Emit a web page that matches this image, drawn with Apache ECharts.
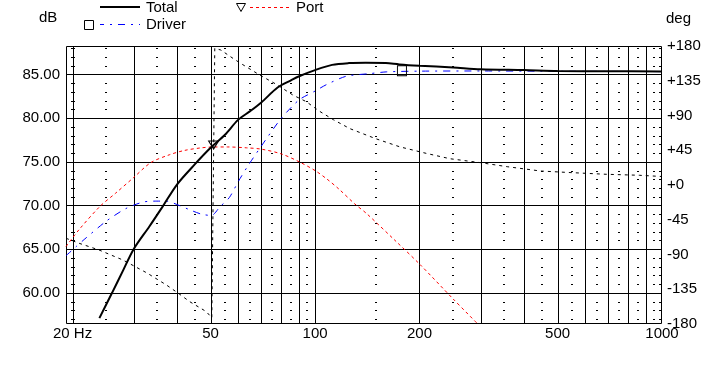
<!DOCTYPE html>
<html><head><meta charset="utf-8">
<script src="https://cdn.jsdelivr.net/npm/echarts@6/dist/echarts.min.js"></script>
<style>html,body{margin:0;padding:0;background:#fff}#c{width:728px;height:384px}</style>
</head><body><div id="c"></div>
<script>
// ---- data ----
const totalFreq = [23.9, 26, 28, 30, 33.3, 36.4, 40, 45, 50, 55, 60, 65, 70, 78, 85, 90, 100, 112, 125, 140, 160, 175, 200, 250, 300, 400, 500, 700, 1000];
const totalDb   = [57.1, 60.0, 62.6, 65.0, 67.6, 69.9, 72.4, 74.7, 76.6, 78.1, 79.8, 80.8, 81.8, 83.5, 84.3, 84.8, 85.5, 86.1, 86.3, 86.35, 86.3, 86.15, 86.0, 85.8, 85.6, 85.5, 85.4, 85.37, 85.35];

const driverFreq = [19.15, 20.5, 21.6, 25, 28.5, 32, 35, 37.3, 40.6, 44.2, 47.1, 50.3, 53.2, 56.6, 60.2, 64.2, 72, 80, 90, 100, 108, 123, 144, 161, 200, 300, 500, 1000];
const driverDb   = [64.25, 65.3, 66.1, 68.2, 69.65, 70.4, 70.5, 70.5, 70.0, 69.4, 69.0, 68.85, 69.85, 70.9, 72.8, 74.6, 77.5, 80.0, 82.1, 83.1, 83.85, 84.8, 85.1, 85.3, 85.38, 85.4, 85.37, 85.33];

const portFreq = [19.15, 20.9, 24, 26.6, 30, 33.6, 38, 42, 47, 51, 56, 63.5, 70, 80, 90, 100, 108, 117, 130, 141, 170, 200, 250, 295];
const portDb   = [65.3, 67.25, 69.9, 71.4, 73.2, 74.9, 75.8, 76.3, 76.6, 76.7, 76.7, 76.6, 76.45, 75.9, 75.0, 74.0, 73.05, 71.9, 70.2, 69.05, 66.0, 63.3, 59.3, 56.4];

const phaseFreq = [19.15, 20.9, 23.8, 27.9, 32.8, 37.3, 40.3, 43.5, 48.6, 50.4, 51.4, 53.5, 58, 61, 69.4, 77.6, 86.3, 94.3, 103, 113, 126, 149.5, 175.6, 209, 245, 300, 358, 447, 555, 690, 860, 1000];
const phaseDeg  = [-69, -75.5, -84, -97, -114, -129.5, -140, -151, -164, -172, 177, 174.8, 164, 157.6, 142.2, 130, 116.5, 108, 95.5, 84.5, 73, 60, 49.4, 41, 34, 28.9, 23.7, 18.1, 15.9, 13.9, 12.6, 11];

const portMarker   = [51, 76.7];
const driverMarker = [178, 85.42];

const freqLabels   = [20, 50, 100, 200, 500, 1000];
const dbLabels     = [60, 65, 70, 75, 80, 85];
const majorFreqs   = [20, 30, 40, 50, 60, 70, 80, 90, 100, 200, 300, 400, 500, 600, 700, 800, 900];
const minorFreqs   = [25, 35, 45, 55, 65, 75, 85, 95, 150, 250, 350, 450, 550, 650, 750, 850, 950];
const minorDb      = [57, 58, 59, 61, 62, 63, 64, 66, 67, 68, 69, 71, 72, 73, 74, 76, 77, 78, 79, 81, 82, 83, 84, 86, 87, 88];

const F_MIN = 19.15, F_MAX = 1000, DB_MIN = 56.43, DB_MAX = 88.26;
const FONT = '"Liberation Sans", Arial, sans-serif';
const NONE = 'rgba(0,0,0,0)';

const pair = (xs, ys) => xs.map((x, i) => [x, ys[i]]);

function vLine(params, api) {
  const f = api.value(0);
  const a = api.coord([f, DB_MAX]), b = api.coord([f, DB_MIN]);
  const x = Math.round(a[0]) + 0.5;
  return {type: 'line', shape: {x1: x, y1: a[1], x2: x, y2: b[1]}, style: {stroke: '#000', lineWidth: 1}};
}
function hLine(params, api) {
  const v = api.value(1);
  const a = api.coord([F_MIN, v]), b = api.coord([F_MAX, v]);
  const y = Math.round(a[1]) + 0.5;
  return {type: 'line', shape: {x1: a[0], y1: y, x2: b[0], y2: y}, style: {stroke: '#000', lineWidth: 1}};
}
function dotMark(params, api) {
  const f = api.value(0), v = api.value(1);
  const p = api.coord([f, v]);
  const edge = api.coord([F_MAX, v]);
  const y = Math.round(p[1]);
  let x0, w;
  if (f === F_MAX) { x0 = Math.round(edge[0]) - 3; w = 3; }
  else if (f === 20) { x0 = Math.round(p[0]) - 2; w = 4; }
  else { x0 = Math.round(p[0]) - 1; w = 2; }
  return {type: 'rect', shape: {x: x0, y: y, width: w, height: 1}, style: {fill: '#000'}};
}
function frame(params, api) {
  const a = api.coord([F_MIN, DB_MAX]), b = api.coord([F_MAX, DB_MIN]);
  const x1 = Math.round(a[0]) + 0.5, y1 = Math.round(a[1]) + 0.5;
  const x2 = Math.round(b[0]) - 0.5, y2 = Math.round(b[1]) - 0.5;
  return {type: 'rect', shape: {x: x1, y: y1, width: x2 - x1, height: y2 - y1}, style: {fill: NONE, stroke: '#000', lineWidth: 1}};
}

const dots = [];
minorFreqs.concat([20, F_MAX]).forEach(f => minorDb.forEach(v => dots.push([f, v])));

const chart = echarts.init(document.getElementById('c'), null, {renderer: 'canvas'});
chart.setOption({
  animation: false,
  backgroundColor: '#fff',
  grid: {left: 66, right: 66, top: 46, bottom: 60, show: false},
  xAxis: {
    type: 'log', logBase: 10, min: F_MIN, max: F_MAX,
    axisLine: {show: false}, axisTick: {show: false}, splitLine: {show: false}, minorTick: {show: false},
    axisLabel: {
      customValues: freqLabels, margin: 2, color: '#000', fontSize: 15, fontFamily: FONT,
      formatter: v => (Math.round(v) === 20 ? '20 Hz' : String(Math.round(v)))
    }
  },
  yAxis: [
    {
      type: 'value', min: DB_MIN, max: DB_MAX,
      axisLine: {show: false}, axisTick: {show: false}, splitLine: {show: false},
      axisLabel: {customValues: dbLabels, margin: 6, color: '#000', fontSize: 15, fontFamily: FONT,
        formatter: v => v.toFixed(2)}
    },
    {
      type: 'value', position: 'right', min: -180, max: 180, interval: 45,
      axisLine: {show: false}, axisTick: {show: false}, splitLine: {show: false},
      axisLabel: {margin: 5, color: '#000', fontSize: 15, fontFamily: FONT,
        formatter: v => (v >= 0 ? '+' + v : String(v))}
    }
  ],
  graphic: [
    {type: 'text', left: 39, top: 10, style: {text: 'dB', fill: '#000', fontSize: 15, fontFamily: FONT}},
    {type: 'text', left: 666, top: 11, style: {text: 'deg', fill: '#000', fontSize: 15, fontFamily: FONT}},
    {type: 'line', shape: {x1: 100, y1: 7, x2: 140, y2: 7}, style: {stroke: '#000', lineWidth: 2}},
    {type: 'text', left: 146, top: 0, style: {text: 'Total', fill: '#000', fontSize: 15, fontFamily: FONT}},
    {type: 'polygon', shape: {points: [[236.5, 3.5], [245.5, 3.5], [241, 11.5]]}, style: {fill: NONE, stroke: '#000', lineWidth: 1}},
    {type: 'line', shape: {x1: 250, y1: 7.5, x2: 290, y2: 7.5}, style: {stroke: '#ff0000', lineWidth: 1, lineDash: [3, 3]}},
    {type: 'text', left: 296, top: 0, style: {text: 'Port', fill: '#000', fontSize: 15, fontFamily: FONT}},
    {type: 'rect', shape: {x: 84.5, y: 20.5, width: 9, height: 9}, style: {fill: NONE, stroke: '#000', lineWidth: 1}},
    {type: 'line', shape: {x1: 100, y1: 24.5, x2: 140, y2: 24.5}, style: {stroke: '#0000ff', lineWidth: 1, lineDash: [7, 6, 2, 6], lineDashOffset: 3}},
    {type: 'text', left: 146, top: 17, style: {text: 'Driver', fill: '#000', fontSize: 15, fontFamily: FONT}}
  ],
  series: [
    {type: 'custom', name: 'vgrid', renderItem: vLine, data: majorFreqs.map(f => [f, DB_MIN]), silent: true, z: 1},
    {type: 'custom', name: 'hgrid', renderItem: hLine, data: dbLabels.map(v => [F_MIN, v]), silent: true, z: 1},
    {type: 'custom', name: 'dots', renderItem: dotMark, data: dots, silent: true, z: 1},
    {type: 'custom', name: 'frame', renderItem: frame, data: [[F_MIN, DB_MIN]], silent: true, z: 1},
    {
      type: 'line', name: 'Port', data: pair(portFreq, portDb), yAxisIndex: 0, showSymbol: false, z: 3,
      smooth: 0.3,
      lineStyle: {color: '#ff0000', width: 1, type: [3, 3]},
      markPoint: {
        symbol: 'path://M0,0 L10,0 L5,8 Z', symbolSize: [10, 8], symbolKeepAspect: false, symbolOffset: [0, -2],
        itemStyle: {color: NONE, borderColor: '#000', borderWidth: 1}, label: {show: false},
        data: [{coord: portMarker}]
      }
    },
    {
      type: 'line', name: 'Driver', data: pair(driverFreq, driverDb), yAxisIndex: 0, showSymbol: false, z: 3,
      smooth: 0.25,
      lineStyle: {color: '#0000ff', width: 1, type: [7, 6, 2, 6]},
      markPoint: {
        symbol: 'rect', symbolSize: [9, 10],
        itemStyle: {color: NONE, borderColor: '#000', borderWidth: 1}, label: {show: false},
        data: [{coord: driverMarker}]
      }
    },
    {
      type: 'line', name: 'Phase', data: pair(phaseFreq, phaseDeg), yAxisIndex: 1, showSymbol: false, z: 3,
      lineStyle: {color: '#000', width: 1, type: [3, 4]}
    },
    {
      type: 'line', name: 'Total', data: pair(totalFreq, totalDb), yAxisIndex: 0, showSymbol: false, z: 4,
      smooth: 0.3,
      lineStyle: {color: '#000', width: 2}
    }
  ]
});
</script></body></html>
